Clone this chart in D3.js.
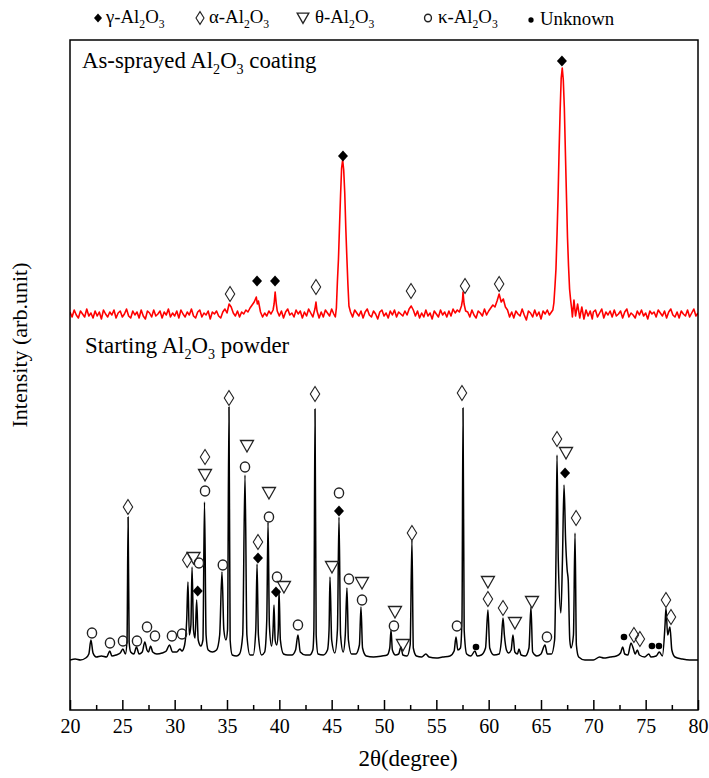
<!DOCTYPE html>
<html>
<head>
<meta charset="utf-8">
<script src="https://cdn.jsdelivr.net/npm/d3@7"></script>
<style>
  html, body { margin: 0; padding: 0; background: #fff; }
  svg { display: block; font-family: "Liberation Serif", "Times New Roman", serif; }
</style>
</head>
<body>
<svg id="chart" width="709" height="778"></svg>
<script>
// ---------- data ----------
// Starting Al2O3 powder: [2θ (deg), intensity (arb.)]
const powderTrace = [
  [20.0,0],[20.5,1],[21.0,0],[21.5,2],[21.8,6],[22.0,20],[22.2,7],[22.5,3],[23.0,4],[23.5,3],
  [23.8,9],[24.0,4],[24.4,5],[24.8,7],[25.05,11],[25.3,6],[25.45,20],[25.55,143],[25.65,18],[25.8,8],
  [26.1,6],[26.35,13],[26.6,6],[26.9,8],[27.15,18],[27.35,10],[27.5,8],[27.7,14],[27.9,8],[28.3,6],
  [28.8,7],[29.2,9],[29.5,15],[29.8,8],[30.2,8],[30.5,11],[30.7,9],[30.95,15],[31.15,40],[31.27,78],
  [31.4,25],[31.55,35],[31.66,93],[31.8,30],[31.95,22],[32.1,60],[32.25,20],[32.5,14],[32.7,20],[32.85,158],
  [33.0,25],[33.2,10],[33.6,8],[34.0,10],[34.3,25],[34.52,88],[34.7,30],[34.9,20],[35.05,30],[35.19,253],
  [35.3,20],[35.5,5],[35.9,4],[36.2,6],[36.5,25],[36.72,185],[36.9,25],[37.2,5],[37.5,5],[37.75,30],
  [37.87,96],[38.0,25],[38.3,5],[38.6,8],[38.8,40],[38.92,138],[39.05,35],[39.25,14],[39.4,30],[39.49,55],
  [39.6,20],[39.75,15],[39.9,30],[39.97,70],[40.1,20],[40.4,6],[40.8,5],[41.2,5],[41.55,10],[41.78,25],
  [42.0,8],[42.5,5],[42.9,5],[43.2,10],[43.3,30],[43.41,251],[43.52,25],[43.7,6],[44.2,5],[44.6,10],
  [44.75,30],[44.84,83],[45.0,20],[45.3,7],[45.55,30],[45.7,143],[45.85,25],[46.1,8],[46.3,25],[46.46,72],
  [46.6,20],[46.9,6],[47.3,6],[47.65,15],[47.8,53],[47.95,12],[48.3,4],[49.0,3],[49.8,4],[50.3,5],
  [50.55,12],[50.67,30],[50.8,10],[51.1,5],[51.4,6],[51.62,13],[51.8,5],[52.2,4],[52.5,15],[52.67,120],
  [52.8,12],[53.1,4],[53.6,3],[54.0,6],[54.3,3],[55.0,2],[55.6,3],[56.3,4],[56.7,9],[56.88,23],
  [57.05,10],[57.3,12],[57.45,40],[57.55,252],[57.66,30],[57.9,6],[58.3,4],[58.69,9],[58.9,4],[59.3,5],
  [59.7,12],[59.93,50],[60.1,12],[60.5,5],[61.0,6],[61.2,18],[61.37,42],[61.5,25],[61.7,10],[61.9,7],
  [62.15,10],[62.32,25],[62.5,8],[62.75,6],[62.9,11],[63.1,5],[63.5,4],[63.85,12],[64.04,53],[64.2,8],
  [64.6,4],[65.0,6],[65.38,15],[65.6,6],[66.0,6],[66.3,20],[66.45,120],[66.53,205],[66.65,100],[66.9,47],
  [67.05,100],[67.2,175],[67.35,120],[67.5,90],[67.6,80],[67.75,20],[67.87,12],[68.1,25],[68.25,127],[68.38,15],
  [68.6,3],[69.2,0],[70.0,0],[70.6,3],[71.0,2],[71.6,3],[72.2,4],[72.6,7],[72.8,13],[73.0,6],
  [73.3,5],[73.6,17],[73.8,12],[74.0,6],[74.2,10],[74.4,5],[74.9,3],[75.3,6],[75.5,3],[76.0,4],
  [76.3,8],[76.6,4],[76.85,35],[76.94,52],[77.1,25],[77.32,33],[77.5,10],[77.8,3],[78.5,1],[79.2,0],
  [80.0,0]
];

// As-sprayed Al2O3 coating: [2θ (deg), intensity above its own baseline (arb.)]
const coatingTrace = [
  [20.0,2],[20.2,-3],[20.4,4],[20.6,-1],[20.8,-4],[21.0,3],[21.2,0],[21.4,-3],[21.6,5],[21.8,-2],
  [22.0,1],[22.2,-4],[22.4,3],[22.6,-2],[22.8,2],[23.0,-5],[23.2,4],[23.4,0],[23.6,-3],[23.8,2],
  [24.0,-1],[24.2,4],[24.4,-4],[24.6,1],[24.8,3],[25.0,-3],[25.2,0],[25.4,5],[25.6,-2],[25.8,-4],
  [26.0,3],[26.2,-1],[26.4,2],[26.6,-4],[26.8,4],[27.0,-2],[27.2,-5],[27.4,3],[27.6,1],[27.8,-3],
  [28.0,4],[28.2,-2],[28.4,0],[28.6,3],[28.8,-4],[29.0,2],[29.2,-1],[29.4,5],[29.6,-3],[29.8,1],
  [30.0,-2],[30.2,3],[30.4,-4],[30.6,4],[30.8,0],[31.0,-3],[31.2,2],[31.4,-1],[31.6,5],[31.8,-2],
  [32.0,-4],[32.2,2],[32.4,4],[32.6,-3],[32.8,1],[33.0,-1],[33.2,3],[33.4,-5],[33.6,2],[33.8,0],
  [34.0,3],[34.2,-2],[34.4,-4],[34.6,2],[34.8,5],[35.0,1],[35.2,10],[35.4,7],[35.6,1],[35.8,-2],
  [36.0,3],[36.2,-3],[36.4,2],[36.6,0],[36.8,4],[37.0,2],[37.2,6],[37.4,9],[37.6,12],[37.8,17],
  [37.9,10],[38.0,13],[38.2,2],[38.4,-3],[38.6,1],[38.8,-2],[39.0,3],[39.2,0],[39.4,4],[39.5,10],
  [39.6,22],[39.7,11],[39.8,3],[40.0,-2],[40.2,3],[40.4,-4],[40.6,2],[40.8,5],[41.0,-1],[41.2,1],
  [41.4,-3],[41.6,4],[41.8,0],[42.0,3],[42.2,-4],[42.4,2],[42.6,-2],[42.8,5],[43.0,1],[43.2,-3],
  [43.4,5],[43.5,12],[43.6,3],[43.8,-4],[44.0,2],[44.2,-3],[44.4,4],[44.6,1],[44.8,-2],[45.0,5],
  [45.2,0],[45.35,-3],[45.45,6],[45.55,33],[45.65,55],[45.75,88],[45.85,119],[45.95,146],[46.05,154],[46.15,144],
  [46.25,121],[46.35,86],[46.45,57],[46.55,30],[46.65,8],[46.8,2],[47.0,-3],[47.2,4],[47.4,1],[47.6,-2],
  [47.8,3],[48.0,-4],[48.2,2],[48.4,5],[48.6,-1],[48.8,-3],[49.0,3],[49.2,0],[49.4,-5],[49.6,2],
  [49.8,4],[50.0,-2],[50.2,1],[50.4,-4],[50.6,3],[50.8,-1],[51.0,4],[51.2,-3],[51.4,2],[51.6,0],
  [51.8,-2],[52.0,3],[52.2,-1],[52.4,5],[52.6,8],[52.8,4],[53.0,-2],[53.2,3],[53.4,-4],[53.6,1],
  [53.8,-3],[54.0,4],[54.2,-2],[54.4,1],[54.6,-5],[54.8,3],[55.0,0],[55.2,-3],[55.4,4],[55.6,-1],
  [55.8,2],[56.0,-3],[56.2,3],[56.4,-2],[56.6,5],[56.8,1],[57.0,4],[57.2,2],[57.4,8],[57.5,14],
  [57.55,22],[57.65,10],[57.8,3],[58.0,2],[58.2,-3],[58.4,4],[58.6,-1],[58.8,-4],[59.0,3],[59.2,1],
  [59.4,-2],[59.6,5],[59.8,-1],[60.0,3],[60.2,6],[60.4,9],[60.6,7],[60.8,13],[61.0,20],[61.2,12],
  [61.4,15],[61.6,7],[61.8,4],[62.0,-3],[62.2,2],[62.4,-4],[62.6,3],[62.8,0],[63.0,-2],[63.2,5],
  [63.4,-1],[63.6,-6],[63.8,3],[64.0,1],[64.2,-3],[64.4,4],[64.6,-2],[64.8,2],[65.0,-5],[65.2,3],
  [65.4,0],[65.6,4],[65.8,-1],[66.0,2],[66.13,4],[66.23,11],[66.33,27],[66.43,45],[66.53,79],[66.63,117],
  [66.73,164],[66.83,204],[66.93,236],[67.03,246],[67.13,234],[67.23,206],[67.33,162],[67.43,119],[67.53,77],[67.63,48],
  [67.73,25],[67.83,14],[67.93,5],[68.0,-3],[68.15,14],[68.3,-2],[68.5,10],[68.7,-4],[68.9,7],[69.1,-5],
  [69.3,4],[69.5,-2],[69.7,3],[69.9,-5],[70.0,2],[70.2,4],[70.4,-3],[70.6,1],[70.8,5],[71.0,-4],
  [71.2,2],[71.4,-1],[71.6,3],[71.8,-3],[72.0,4],[72.2,-2],[72.4,0],[72.6,3],[72.8,-4],[73.0,2],
  [73.2,5],[73.4,-3],[73.6,1],[73.8,-1],[74.0,-4],[74.2,3],[74.4,-1],[74.6,4],[74.8,-2],[75.0,1],
  [75.2,-5],[75.4,3],[75.6,0],[75.8,2],[76.0,-3],[76.2,4],[76.4,1],[76.6,-2],[76.8,3],[77.0,-4],
  [77.2,2],[77.4,5],[77.6,-1],[77.8,-3],[78.0,2],[78.2,-4],[78.4,3],[78.6,0],[78.8,-2],[79.0,4],
  [79.2,-3],[79.4,1],[79.6,5],[79.8,-2],[80.0,1]
];

// Phase markers for the powder pattern: [2θ, intensity at marker centre]
const powderGamma = [[32.2,69],[37.96,102],[39.68,68],[45.7,149],[67.3,187]];
const powderAlpha = [[25.54,153],[31.2,100],[32.9,203],[35.19,262],[37.96,118],[43.41,266],[52.67,127],
  [57.45,267],[59.93,61],[61.37,52],[66.53,221],[68.35,142],[73.88,25],[74.45,21],[76.94,60],[77.42,43]];
const powderTheta = [[31.8,102],[32.9,185],[36.91,214],[39.01,167],[40.44,73],[45.03,93],[47.9,77],
  [51.05,48],[51.81,15],[59.93,78],[62.51,37],[64.14,58],[67.39,207]];
const powderKappa = [[22.1,27],[23.82,17],[25.06,19],[26.4,19],[27.36,33],[28.12,24],[29.74,24],[30.7,26],
  [32.32,97],[32.9,169],[34.6,95],[36.72,193],[39.01,143],[39.78,83],[41.78,35],[45.7,167],[46.65,81],
  [47.9,60],[50.95,34],[56.97,34],[65.57,23]];
const powderUnknown = [[58.79,13],[72.93,23],[75.6,14],[76.27,14]];

// Phase markers for the coating pattern (relative to its baseline)
const coatingGamma = [[37.87,33],[39.59,33],[46.08,158],[67.0,253]];
const coatingAlpha = [[35.29,20],[43.5,27],[52.58,23],[57.74,28],[61.0,30]];

const xTicks = [20,25,30,35,40,45,50,55,60,65,70,75,80];
const xMinorTicks = [22.5,27.5,32.5,37.5,42.5,47.5,52.5,57.5,62.5,67.5,72.5,77.5];

(function drawChart() {
  const svg = d3.select("#chart");
  const plotLeft = 70, plotRight = 698, plotTop = 40, plotBottom = 710;
  const x = d3.scaleLinear().domain([20, 80]).range([plotLeft, plotRight]);
  const y = d3.scaleLinear().domain([-50, 620]).range([plotBottom, plotTop]);
  const coatingOffset = 346;   // vertical shift of the coating pattern

  svg.append("clipPath").attr("id", "plotClip")
    .append("rect").attr("x", plotLeft).attr("y", plotTop)
    .attr("width", plotRight - plotLeft).attr("height", plotBottom - plotTop);

  // ---------- traces ----------
  const powderLine = d3.line().x(d => x(d[0])).y(d => y(d[1])).curve(d3.curveMonotoneX);
  const coatingLine = d3.line().x(d => x(d[0])).y(d => y(d[1] + coatingOffset));

  const plot = svg.append("g").attr("clip-path", "url(#plotClip)");
  plot.append("path").datum(powderTrace).attr("d", powderLine)
    .attr("fill", "none").attr("stroke", "#000").attr("stroke-width", 1.5).attr("stroke-linejoin", "round");
  plot.append("path").datum(coatingTrace).attr("d", coatingLine)
    .attr("fill", "none").attr("stroke", "#ff0000").attr("stroke-width", 1.6).attr("stroke-linejoin", "round");

  // ---------- marker shapes ----------
  const shapes = {
    gamma: (g, s) => g.append("path").attr("d", `M0,${-5.5*s}L${5*s},0L0,${5.5*s}L${-5*s},0Z`).attr("fill", "#000"),
    alpha: (g, s) => g.append("path").attr("d", `M0,${-7.5*s}L${4.7*s},0L0,${7.5*s}L${-4.7*s},0Z`)
                       .attr("fill", "none").attr("stroke", "#222").attr("stroke-width", 1.1),
    theta: (g, s) => g.append("path").attr("d", `M${-6.5*s},${-5.5*s}L${6.5*s},${-5.5*s}L0,${6*s}Z`)
                       .attr("fill", "none").attr("stroke", "#222").attr("stroke-width", 1.3),
    kappa: (g, s) => g.append("ellipse").attr("rx", 4.6*s).attr("ry", 5*s)
                       .attr("fill", "none").attr("stroke", "#222").attr("stroke-width", 1.4),
    unknown: (g, s) => g.append("circle").attr("r", 3.3*s).attr("fill", "#000")
  };

  function drawMarkers(points, kind, offset) {
    const g = svg.append("g").attr("class", "markers-" + kind);
    points.forEach(p => {
      const m = g.append("g").attr("transform", `translate(${x(p[0])},${y(p[1] + offset)})`);
      shapes[kind](m, 1);
    });
  }
  drawMarkers(powderKappa, "kappa", 0);
  drawMarkers(powderTheta, "theta", 0);
  drawMarkers(powderAlpha, "alpha", 0);
  drawMarkers(powderGamma, "gamma", 0);
  drawMarkers(powderUnknown, "unknown", 0);
  drawMarkers(coatingAlpha, "alpha", coatingOffset);
  drawMarkers(coatingGamma, "gamma", coatingOffset);

  // ---------- frame and axis ----------
  svg.append("rect").attr("x", plotLeft).attr("y", plotTop)
    .attr("width", plotRight - plotLeft).attr("height", plotBottom - plotTop)
    .attr("fill", "none").attr("stroke", "#000").attr("stroke-width", 1.5);

  const xAxis = svg.append("g").attr("transform", `translate(0,${plotBottom})`)
    .call(d3.axisBottom(x).tickValues(xTicks).tickSize(-10).tickPadding(9).tickFormat(d3.format("d")));
  xAxis.select(".domain").remove();
  xAxis.selectAll(".tick line").attr("stroke", "#000").attr("stroke-width", 1.5);
  xAxis.selectAll(".tick text").attr("font-family", "Liberation Serif, serif").attr("font-size", 20).attr("fill", "#000");

  const xMinor = svg.append("g").attr("transform", `translate(0,${plotBottom})`)
    .call(d3.axisBottom(x).tickValues(xMinorTicks).tickSize(-5).tickFormat(""));
  xMinor.select(".domain").remove();
  xMinor.selectAll(".tick line").attr("stroke", "#000").attr("stroke-width", 1.5);

  // ---------- text ----------
  // parts: [string, isSubscript]
  function chemText(parent, xPos, yPos, parts, size) {
    const t = parent.append("text").attr("x", xPos).attr("y", yPos).attr("font-size", size).attr("fill", "#000");
    const drop = size * 0.28;
    let lowered = false;
    parts.forEach(([str, sub]) => {
      const ts = t.append("tspan").text(str);
      if (sub) {
        ts.attr("font-size", size * 0.62).attr("dy", lowered ? 0 : drop);
        lowered = true;
      } else {
        ts.attr("dy", lowered ? -drop : 0);
        lowered = false;
      }
    });
    return t;
  }

  chemText(svg, 82, 68, [["As-sprayed Al",0],["2",1],["O",0],["3",1],[" coating",0]], 22.8);
  chemText(svg, 85, 353, [["Starting Al",0],["2",1],["O",0],["3",1],[" powder",0]], 22.8);

  // legend
  const legend = svg.append("g");
  const legendItems = [
    { kind: "gamma",   cx: 98,  tx: 106, parts: [["γ-Al",0],["2",1],["O",0],["3",1]] },
    { kind: "alpha",   cx: 200, tx: 209, parts: [["α-Al",0],["2",1],["O",0],["3",1]] },
    { kind: "theta",   cx: 303, tx: 315, parts: [["θ-Al",0],["2",1],["O",0],["3",1]] },
    { kind: "kappa",   cx: 428, tx: 438, parts: [["κ-Al",0],["2",1],["O",0],["3",1]] },
    { kind: "unknown", cx: 531, tx: 540, parts: [["Unknown",0]] }
  ];
  const legendScale = { gamma: 0.8, alpha: 0.85, theta: 0.9, kappa: 0.75, unknown: 0.8 };
  legendItems.forEach(it => {
    const m = legend.append("g").attr("transform", `translate(${it.cx},${it.kind === "unknown" ? 20 : 18})`);
    shapes[it.kind](m, legendScale[it.kind]);
    chemText(legend, it.tx, it.kind === "unknown" ? 25 : 23, it.parts, 18.8);
  });

  // axis titles
  svg.append("text").attr("x", 408).attr("y", 766).attr("text-anchor", "middle")
    .attr("font-size", 23).attr("fill", "#000").text("2θ(degree)");
  svg.append("text").attr("transform", "translate(27,345) rotate(-90)").attr("text-anchor", "middle")
    .attr("font-size", 22).attr("fill", "#000").text("Intensity (arb.unit)");
})();
</script>
</body>
</html>
